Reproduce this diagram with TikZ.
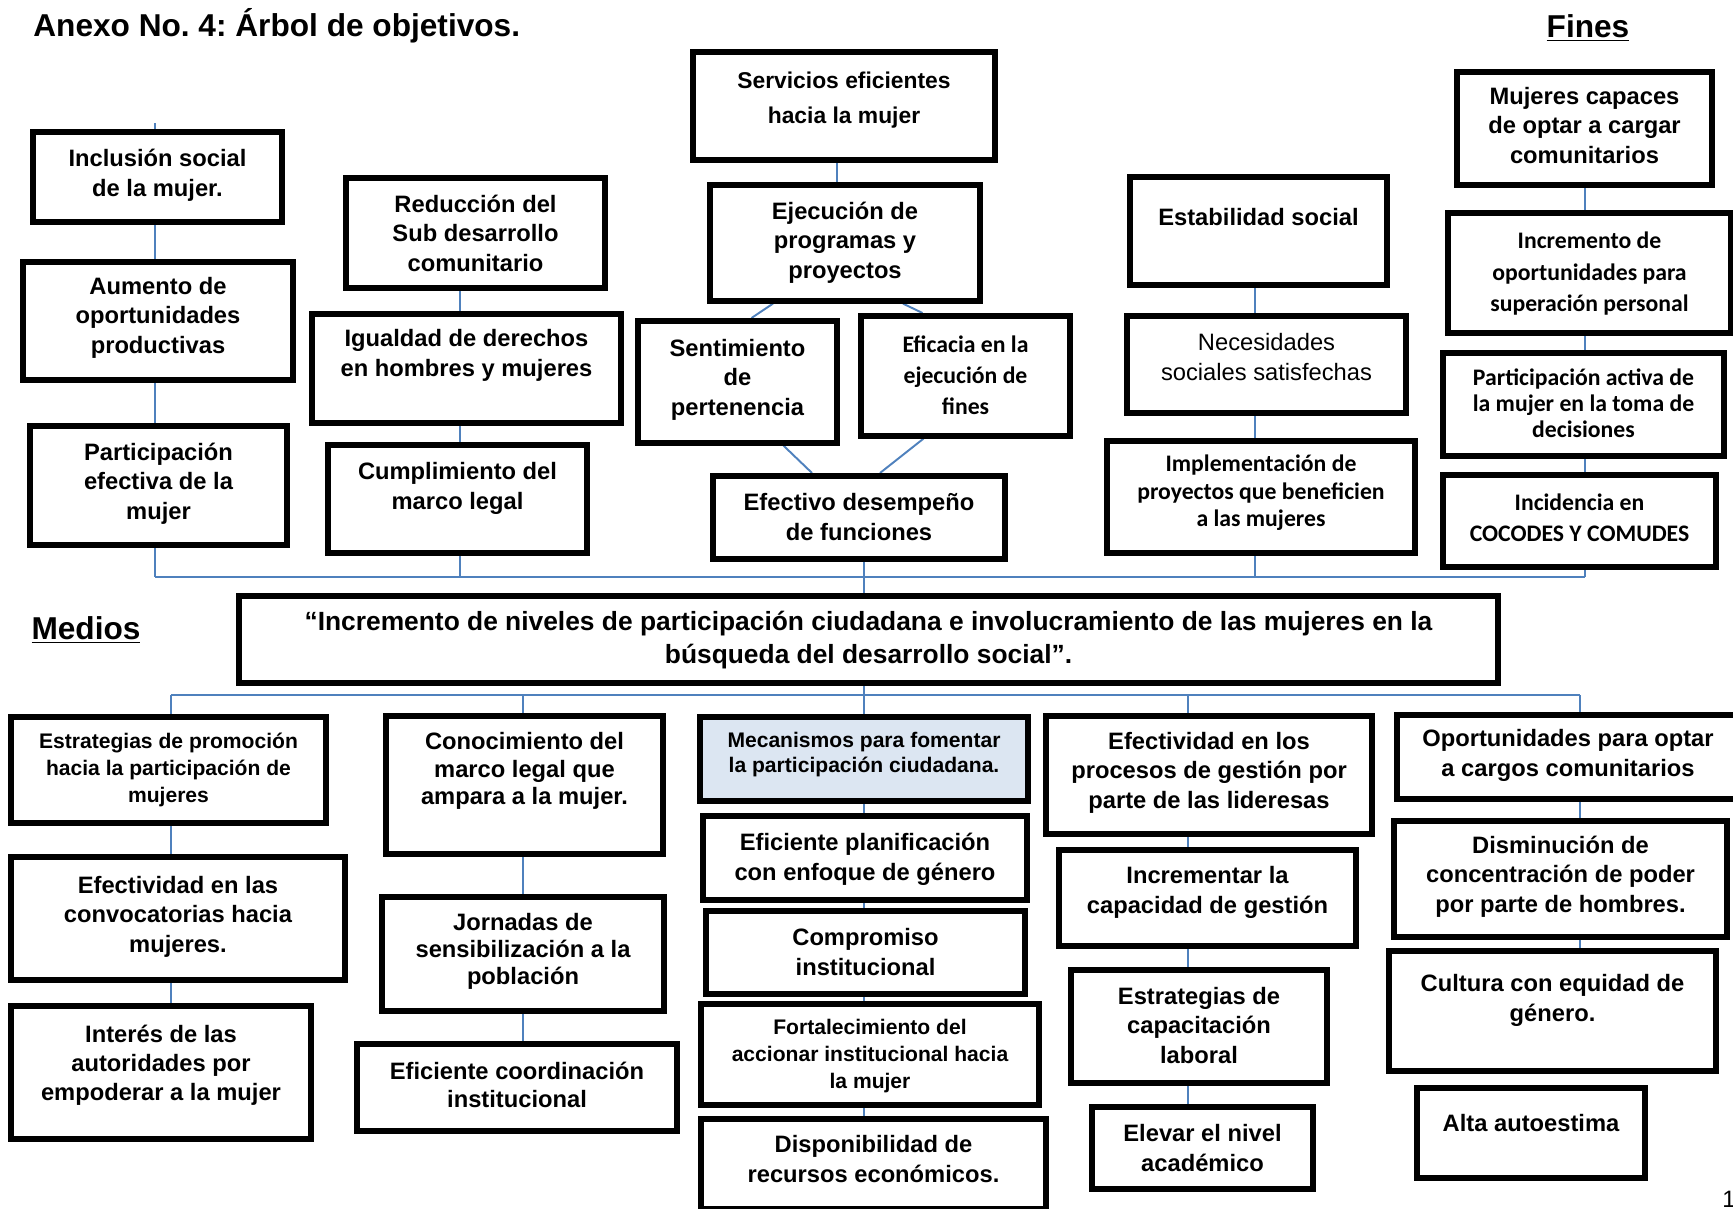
\documentclass[tikz,border=0pt]{standalone}
\usepackage{fontspec}
\setmainfont{Liberation Sans}
\newfontfamily\calibri{Carlito}
\usetikzlibrary{calc,backgrounds}
\definecolor{azul}{RGB}{79,129,189}
\definecolor{celeste}{RGB}{220,230,242}
\frenchspacing
\tikzset{
  caja/.style n args={3}{
    draw, line width=3.2pt,
    fill=white,
    align=center,
    anchor=north,
    inner xsep=2pt, inner ysep=0pt,
    minimum width=#1*0.02cm,
    text height=#3*0.02cm,
    text depth=(#2-#3)*0.02cm,
    font=\bfseries\fontsize{13.5}{17}\selectfont},
  chica/.style={font=\bfseries\fontsize{12}{15.4}\selectfont},
  calib/.style={font=\calibri\bfseries\fontsize{13.5}{#1}\selectfont},
  calib/.default=17.7,
  linea/.style={draw=azul, line width=1.1pt},
  titulo/.style={font=\bfseries\fontsize{18}{22}\selectfont, inner sep=0pt}
}

\begin{document}
\begin{tikzpicture}[x=0.02cm, y=-0.02cm]
  \useasboundingbox (0,0) rectangle (1733,1209);
  \begin{scope}[on background layer]
    \fill[white] (0,0) rectangle (1733,1209);
  \end{scope}
  % headings
  \node[titulo, anchor=west] (anexo) at (33,26) {Anexo No. 4: Árbol de objetivos.};
  \node[titulo] (fines) at (1588,28) {\underline{Fines}};
  \node[titulo] (medios) at (86,630) {\underline{Medios}};
  %% Fines, first column
  \node[caja={249}{90}{65}] (inclusion) at (157.5,129) {Inclusión social\\de la mujer.};
  \node[caja={270}{118}{92}] (aumento) at (158,259) {Aumento de\\oportunidades\\productivas};
  \node[caja={257}{119}{94}] (efectiva) at (158.5,423) {Participación\\efectiva de la\\mujer};
  %% second column
  \node[caja={259}{110}{94}] (reduccion) at (475.5,175) {Reducción del\\Sub desarrollo\\comunitario};
  \node[caja={309}{109}{63}] (igualdad) at (466.5,311) {Igualdad de derechos\\en hombres y mujeres};
  \node[caja={259}{108}{65}] (cumplimiento) at (457.5,442) {Cumplimiento del\\marco legal};
  %% middle column
  \node[caja={302}{108}{72}, font=\bfseries\fontsize{13}{20}\selectfont] (servicios) at (844,49) {Servicios eficientes\\hacia la mujer};
  \node[caja={270}{116}{94}] (ejecucion) at (845,182) {Ejecución de\\programas y\\proyectos};
  \node[caja={199}{122}{95}] (sentimiento) at (737.5,318) {Sentimiento\\de\\pertenencia};
  \node[caja={209}{120}{99}, calib] (eficacia) at (965.5,313) {Eficacia en la\\ejecución de\\fines};
  \node[caja={292}{83}{65}] (efectivo) at (859,473) {Efectivo desempeño\\de funciones};
  %% fourth column
  \node[caja={257}{108}{49}] (estabilidad) at (1258.5,174) {Estabilidad social};
  \node[caja={279}{97}{65}, font=\fontsize{13.5}{17}\selectfont] (necesidades) at (1266.5,313) {Necesidades\\sociales satisfechas};
  \node[caja={308}{112}{86}, calib=15.7] (implementacion) at (1261,438) {Implementación de\\proyectos que beneficien\\a las mujeres};
  %% last column
  \node[caja={255}{113}{92}] (capaces) at (1584.5,69) {Mujeres capaces\\de optar a cargar\\comunitarios};
  \node[caja={283}{120}{99}, calib=18] (superacion) at (1589.5,210) {Incremento de\\oportunidades para\\superación personal};
  \node[caja={281}{103}{85}, calib=15] (activa) at (1583.5,350) {Participación activa de\\la mujer en la toma de\\decisiones};
  \node[caja={273}{92}{67}, calib] (incidencia) at (1579.5,472) {Incidencia en\\COCODES Y COMUDES};
  % the problem itself
  \node[caja={1259}{87}{68}, font=\bfseries\fontsize{15}{18.8}\selectfont] (central) at (868.5,593)
    {“Incremento de niveles de participación ciudadana e involucramiento de las mujeres en la\\búsqueda del desarrollo social”.};
  %% Medios, first column
  \node[caja={315}{106}{86}, chica] (promocion) at (168.5,714) {Estrategias de promoción\\hacia la participación de\\mujeres};
  \node[caja={334}{123}{96}] (convocatorias) at (178,854) {Efectividad en las\\convocatorias hacia\\mujeres.};
  \node[caja={300}{133}{95}, font=\bfseries\fontsize{13.5}{16.6}\selectfont] (interes) at (161,1003) {Interés de las\\autoridades por\\empoderar a la mujer};
  %% second column
  \node[caja={277}{138}{89}, font=\bfseries\fontsize{13.5}{15.7}\selectfont] (conocimiento) at (524.5,713) {Conocimiento del\\marco legal que\\ampara a la mujer.};
  \node[caja={282}{114}{88}, font=\bfseries\fontsize{13.5}{15.4}\selectfont] (jornadas) at (523,894) {Jornadas de\\sensibilización a la\\población};
  \node[caja={320}{87}{64}, font=\bfseries\fontsize{13.5}{16.4}\selectfont] (coordinacion) at (517,1041) {Eficiente coordinación\\institucional};
  %% middle column
  \node[caja={328}{84}{56}, fill=celeste, font=\bfseries\fontsize{12}{14.5}\selectfont] (mecanismos) at (864,714) {Mecanismos para fomentar\\la participación ciudadana.};
  \node[caja={324}{84}{65}] (planificacion) at (865,813) {Eficiente planificación\\con enfoque de género};
  \node[caja={319}{83}{65}] (compromiso) at (865.5,908) {Compromiso\\institucional};
  \node[caja={338}{101}{85}, chica] (fortalecimiento) at (870,1001) {Fortalecimiento del\\accionar institucional hacia\\la mujer};
  \node[caja={345}{90}{64}] (recursos) at (873.5,1116) {Disponibilidad de\\recursos económicos.};
  %% fourth column
  \node[caja={326}{118}{93}] (lideresas) at (1209,713) {Efectividad en los\\procesos de gestión por\\parte de las lideresas};
  \node[caja={297}{96}{64}] (gestion) at (1207.5,847) {Incrementar la\\capacidad de gestión};
  \node[caja={256}{113}{94}] (capacitacion) at (1199,967) {Estrategias de\\capacitación\\laboral};
  \node[caja={221}{82}{65}] (academico) at (1202.5,1104) {Elevar el nivel\\académico};
  %% last column
  \node[caja={342}{84}{62}] (cargos) at (1568,712) {Oportunidades para optar\\a cargos comunitarios};
  \node[caja={333}{116}{92}] (poder) at (1560.5,818) {Disminución de\\concentración de poder\\por parte de hombres.};
  \node[caja={327}{120}{71}] (equidad) at (1552.5,948) {Cultura con equidad de\\género.};
  \node[caja={228}{90}{44}] (autoestima) at (1531,1085) {Alta autoestima};
  \node[font=\fontsize{13.5}{16}\selectfont, anchor=west, inner sep=0pt] (pagina) at (1722,1199) {1};

  % Now the blue connectors, behind the boxes
  \coordinate (ejeA) at (155,0);
  \coordinate (ejeB) at (460,0);
  \coordinate (ejeC) at (837,0);
  \coordinate (ejeM) at (864,0);
  \coordinate (ejeD) at (1255,0);
  \coordinate (ejeE) at (1585,0);
  \coordinate (colA) at (171,0);
  \coordinate (colB) at (523,0);
  \coordinate (colD) at (1188,0);
  \coordinate (colE) at (1580,0);
  \coordinate (barraF) at (0,577);
  \coordinate (barraM) at (0,695);
  \begin{scope}[on background layer]
    %% Fines
    \draw[linea] (inclusion.north -| ejeA) -- ++(0,-6);
    \foreach \a/\b in {inclusion/aumento, aumento/efectiva}
      \draw[linea] (\a.south -| ejeA) -- (\b.north -| ejeA);
    \foreach \a/\b in {reduccion/igualdad, igualdad/cumplimiento}
      \draw[linea] (\a.south -| ejeB) -- (\b.north -| ejeB);
    \draw[linea] (servicios.south -| ejeC) -- (ejecucion.north -| ejeC);
    \draw[linea] ($(ejecucion.south)+(-72,0)$) -- ($(sentimiento.north)+(14,0)$);
    \draw[linea] ($(ejecucion.south)+(58,0)$) -- ($(eficacia.north)+(-43,0)$);
    \draw[linea] ($(sentimiento.south)+(46,0)$) -- ($(efectivo.north)+(-47,0)$);
    \draw[linea] ($(eficacia.south)+(-42,0)$) -- ($(efectivo.north)+(21,0)$);
    \foreach \a/\b in {estabilidad/necesidades, necesidades/implementacion}
      \draw[linea] (\a.south -| ejeD) -- (\b.north -| ejeD);
    \foreach \a/\b in {capaces/superacion, superacion/activa, activa/incidencia}
      \draw[linea] (\a.south -| ejeE) -- (\b.north -| ejeE);
    \draw[linea] (barraF -| ejeA) -- (barraF -| ejeE);
    \foreach \a/\e in {efectiva/ejeA, cumplimiento/ejeB, implementacion/ejeD, incidencia/ejeE}
      \draw[linea] (\a.south -| \e) -- (barraF -| \e);
    \draw[linea] (efectivo.south -| ejeM) -- (central.north -| ejeM);
    %% Medios
    \draw[linea] (central.south -| ejeM) -- (mecanismos.north -| ejeM);
    \draw[linea] (barraM -| colA) -- (barraM -| colE);
    \foreach \b/\e in {promocion/colA, conocimiento/colB, lideresas/colD, cargos/colE}
      \draw[linea] (barraM -| \e) -- (\b.north -| \e);
    \foreach \a/\b in {promocion/convocatorias, convocatorias/interes}
      \draw[linea] (\a.south -| colA) -- (\b.north -| colA);
    \foreach \a/\b in {conocimiento/jornadas, jornadas/coordinacion}
      \draw[linea] (\a.south -| colB) -- (\b.north -| colB);
    \foreach \a/\b in {mecanismos/planificacion, planificacion/compromiso, compromiso/fortalecimiento, fortalecimiento/recursos}
      \draw[linea] (\a.south -| ejeM) -- (\b.north -| ejeM);
    \foreach \a/\b in {lideresas/gestion, gestion/capacitacion, capacitacion/academico}
      \draw[linea] (\a.south -| colD) -- (\b.north -| colD);
    \foreach \a/\b in {cargos/poder, poder/equidad}
      \draw[linea] (\a.south -| colE) -- (\b.north -| colE);
  \end{scope}
\end{tikzpicture}
\end{document}
